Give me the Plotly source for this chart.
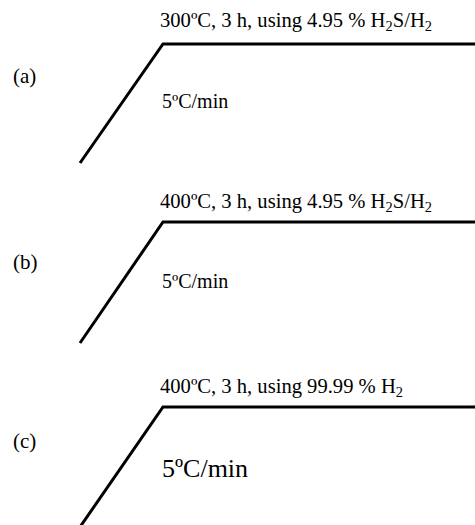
import plotly.graph_objects as go

# ---- data (schematic heating profiles) ----
panel_labels = ["(a)", "(b)", "(c)"]
conditions = [
    "300ºC, 3 h, using 4.95 % H<sub>2</sub>S/H<sub>2</sub>",
    "400ºC, 3 h, using 4.95 % H<sub>2</sub>S/H<sub>2</sub>",
    "400ºC, 3 h, using 99.99 % H<sub>2</sub>",
]
ramp_labels = ["5ºC/min", "5ºC/min", "5ºC/min"]
time_points = [0, 1, 5]      # schematic time: ramp then 3 h dwell
temp_points = [0, 1, 1]      # normalised temperature

W, H = 475, 525

fig = go.Figure()

# layout geometry (pixels)
domains_px = [(0, 175), (175, 350), (350, 525)]
base_px = [163, 343, 527]     # pixel of temperature 0
rise_px = [119, 121, 120]     # pixels per unit temperature
title_y = [21, 202, 387]
label_y = [76, 262, 441]
rate_y = [101, 281, 468]
rate_size = [20, 20, 26]

x_unit = 83.0
x0_px = 80.0
xrange = [-x0_px / x_unit, (W - x0_px) / x_unit]

axis_names = ["y", "y2", "y3"]
for i in range(3):
    top, bot = domains_px[i]
    rng = [(base_px[i] - bot) / rise_px[i], (base_px[i] - top) / rise_px[i]]
    key = "yaxis" if i == 0 else f"yaxis{i+1}"
    fig.update_layout(**{key: dict(domain=[1 - bot / H, 1 - top / H], range=rng,
                                   visible=False, fixedrange=True,
                                   anchor="x")})
    fig.add_trace(go.Scatter(x=time_points, y=temp_points, mode="lines",
                             line=dict(color="black", width=3),
                             yaxis=axis_names[i], xaxis="x",
                             showlegend=False, hoverinfo="skip"))

    fnt = dict(family="Liberation Serif, Times New Roman, serif", color="black")
    fig.add_annotation(text=conditions[i], xref="paper", yref="paper",
                       x=158 / W, y=1 - title_y[i] / H, xanchor="left", yanchor="middle",
                       showarrow=False, font=dict(size=20.6, **fnt))
    fig.add_annotation(text=panel_labels[i], xref="paper", yref="paper",
                       x=11 / W, y=1 - label_y[i] / H, xanchor="left", yanchor="middle",
                       showarrow=False, font=dict(size=21, **fnt))
    fig.add_annotation(text=ramp_labels[i], xref="paper", yref="paper",
                       x=160 / W, y=1 - rate_y[i] / H, xanchor="left", yanchor="middle",
                       showarrow=False, font=dict(size=rate_size[i], **fnt))

fig.update_layout(
    width=W, height=H,
    margin=dict(l=0, r=0, t=0, b=0),
    paper_bgcolor="white", plot_bgcolor="white",
    xaxis=dict(range=xrange, visible=False, fixedrange=True),
    showlegend=False,
)

fig.write_html("out.html")
